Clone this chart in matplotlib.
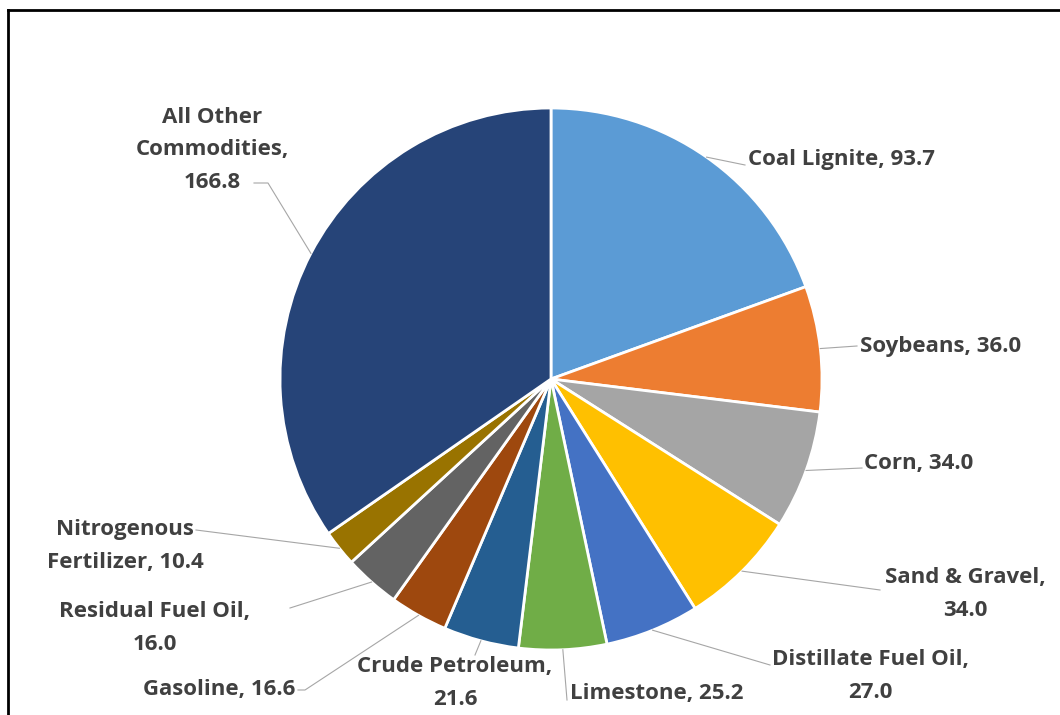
"""
Pie chart of tonnage by commodity, recreated in matplotlib.
Writes: out.png
"""

import numpy as np
import matplotlib.pyplot as plt
from matplotlib.lines import Line2D

labels = [
    "Coal Lignite", "Soybeans", "Corn", "Sand & Gravel", "Distillate Fuel Oil",
    "Limestone", "Crude Petroleum", "Gasoline", "Residual Fuel Oil",
    "Nitrogenous Fertilizer", "All Other Commodities",
]
values = [93.7, 36.0, 34.0, 34.0, 27.0, 25.2, 21.6, 16.6, 16.0, 10.4, 166.8]
colors = [
    "#5B9BD5", "#ED7D31", "#A5A5A5", "#FFC000", "#4472C4", "#70AD47",
    "#255E91", "#9E480E", "#636363", "#997300", "#264478",
]

# label text as shown (line breaks), label centre in pixels, alignment, leader end in pixels
label_text = [
    "Coal Lignite, 93.7", "Soybeans, 36.0", "Corn, 34.0", "Sand & Gravel,\n34.0",
    "Distillate Fuel Oil,\n27.0", "Limestone, 25.2", "Crude Petroleum,\n21.6",
    "Gasoline, 16.6", "Residual Fuel Oil,\n16.0", "Nitrogenous\nFertilizer, 10.4",
    "All Other\nCommodities,\n166.8",
]
label_pos = [
    (748, 160, "left"), (860, 347, "left"), (864, 464, "left"), (965, 594, "center"),
    (870, 676, "center"), (570, 694, "left"), (455, 683, "center"),
    (295, 690, "right"), (155, 628, "center"), (125, 546, "center"),
    (212, 150, "center"),
]
leader_end = [
    [(745, 165)], [(857, 346)], [(862, 468)], [(880, 590)], [(770, 665)],
    [(567, 700)], [(475, 655)], [(305, 690), (298, 690)], [(290, 608)],
    [(196, 530)], [(268, 183), (254, 183)],
]

W, H = 1060, 715
CX, CY, R = 551, 379, 271
TXT = "#404040"


def px(x, y):
    return (x - CX) / R, (CY - y) / R


fig = plt.figure(figsize=(W / 100, H / 100), dpi=100)
fig.patch.set_facecolor("white")
ax = fig.add_axes([0, 0, 1, 1])

wedges, _ = ax.pie(
    values, colors=colors, startangle=90, counterclock=False, radius=1.0,
    wedgeprops=dict(edgecolor="white", linewidth=2),
)
ax.set_xlim(-CX / R, (W - CX) / R)
ax.set_ylim(-(H - CY) / R, CY / R)
ax.set_aspect("auto")
ax.axis("off")

for w, txt, (lx, ly, ha), ends in zip(wedges, label_text, label_pos, leader_end):
    mid = np.deg2rad((w.theta1 + w.theta2) / 2)
    pts = [(np.cos(mid), np.sin(mid))] + [px(x, y) for x, y in ends]
    xs, ys = zip(*pts)
    ax.plot(xs, ys, color="#A6A6A6", linewidth=0.8, zorder=1)
    tx, ty = px(lx, ly)
    ax.text(tx, ty, txt, ha=ha, va="center", multialignment="center",
            fontsize=16, fontweight="bold", color=TXT, family="Open Sans",
            linespacing=1.7, zorder=3)

# chart frame (left and top edges visible)
fig.add_artist(Line2D([8 / W, 8 / W], [0, 1 - 10 / H], color="black", linewidth=2,
                      transform=fig.transFigure))
fig.add_artist(Line2D([8 / W, 1], [1 - 10 / H, 1 - 10 / H], color="black", linewidth=2,
                      transform=fig.transFigure))

fig.savefig("out.png", dpi=100, facecolor="white")
